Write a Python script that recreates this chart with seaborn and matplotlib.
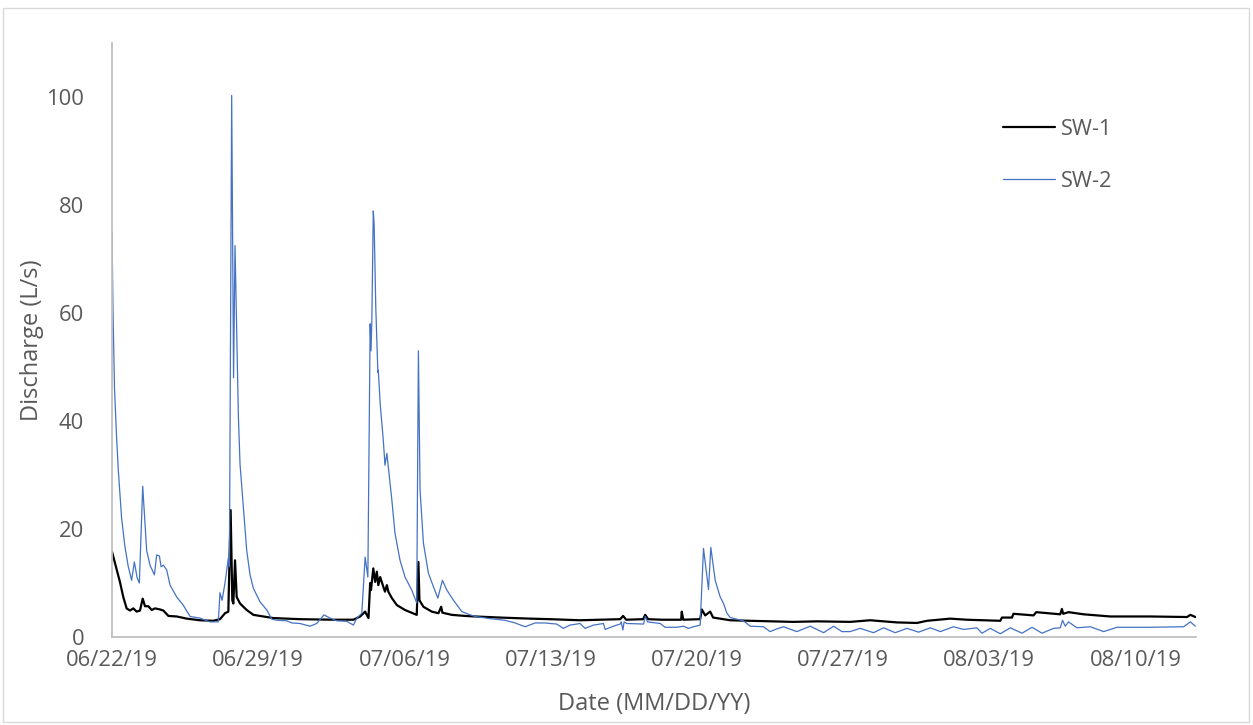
import matplotlib
matplotlib.use("Agg")
import matplotlib.pyplot as plt
import matplotlib.dates as mdates
from matplotlib.patches import Rectangle
import seaborn as sns
import pandas as pd

START = "2019-06-22"

# SW-1 discharge, day offsets from 06/22/19 and L/s
sw1_days = [0.00, 0.23, 0.38, 0.54, 0.70, 0.86, 1.02, 1.18, 1.34, 1.47, 1.58, 1.74, 1.90,
            2.06, 2.30, 2.46, 2.70, 3.10, 3.58, 4.21, 4.85, 5.17, 5.41, 5.57, 5.68, 5.76,
            5.81, 5.89, 5.97, 6.13, 6.45, 6.77, 7.25, 7.73, 9.00, 10.60, 11.56, 11.88, 12.12,
            12.28, 12.36, 12.40, 12.51, 12.60, 12.68, 12.75, 12.84, 12.99, 13.07, 13.16, 13.23,
            13.40, 13.64, 14.03, 14.59, 14.67, 14.72, 14.91, 15.31, 15.63, 15.76, 15.82, 16.27,
            16.91, 17.39, 18.58, 20.02, 20.98, 22.41, 24.33, 24.47, 24.62, 25.43, 25.53, 25.67,
            26.33, 27.25, 27.28, 27.35, 28.16, 28.24, 28.40, 28.64, 28.78, 29.60, 30.56, 32.61,
            33.77, 35.34, 36.30, 37.58, 38.54, 39.02, 40.13, 40.93, 41.73, 42.53, 42.61, 43.09,
            43.16, 44.12, 44.25, 45.40, 45.48, 45.54, 45.80, 46.52, 47.80, 49.71, 51.47, 51.63,
            51.87]
sw1_q = [15.8, 12.4, 10.2, 7.4, 5.3, 4.9, 5.3, 4.7, 4.9, 7.1, 5.7, 5.7, 5.0,
         5.3, 5.1, 4.9, 3.9, 3.8, 3.4, 3.1, 3.0, 3.3, 4.4, 4.7, 23.5, 6.8,
         6.2, 14.2, 7.4, 6.2, 5.0, 4.1, 3.8, 3.5, 3.3, 3.2, 3.2, 3.8, 4.7,
         3.5, 10.0, 8.7, 12.7, 10.2, 12.1, 9.6, 11.1, 9.3, 8.4, 9.6, 8.4,
         7.2, 5.9, 5.0, 4.1, 13.9, 6.8, 5.6, 4.7, 4.4, 5.6, 4.5, 4.1,
         3.9, 3.8, 3.6, 3.4, 3.3, 3.1, 3.3, 3.9, 3.2, 3.3, 4.1, 3.3,
         3.2, 3.2, 4.7, 3.2, 3.3, 5.1, 4.0, 4.7, 3.6, 3.1, 3.0, 2.8,
         2.9, 2.8, 3.1, 2.7, 2.6, 3.0, 3.4, 3.2, 3.1, 3.0, 3.6, 3.6,
         4.3, 4.0, 4.6, 4.2, 5.2, 4.3, 4.6, 4.2, 3.8, 3.8, 3.7, 4.1,
         3.7]

# SW-2 discharge
sw2_days = [0.00, 0.05, 0.12, 0.22, 0.30, 0.46, 0.62, 0.78, 0.94, 1.07, 1.20, 1.31, 1.47,
            1.66, 1.82, 2.03, 2.14, 2.27, 2.35, 2.46, 2.62, 2.78, 3.10, 3.41, 3.74, 4.21,
            4.69, 5.09, 5.17, 5.27, 5.41, 5.57, 5.62, 5.73, 5.82, 5.89, 5.97, 6.05, 6.13,
            6.29, 6.45, 6.61, 6.77, 7.09, 7.41, 7.65, 7.89, 8.37, 8.61, 9.00, 9.48, 9.80,
            10.15, 10.44, 10.76, 11.24, 11.56, 11.72, 11.96, 12.12, 12.25, 12.36, 12.40, 12.44,
            12.51, 12.55, 12.63, 12.73, 12.75, 12.84, 12.99, 13.07, 13.16, 13.23, 13.40, 13.55,
            13.79, 14.03, 14.35, 14.59, 14.67, 14.75, 14.91, 15.15, 15.39, 15.60, 15.66, 15.82,
            16.03, 16.35, 16.75, 17.15, 17.39, 18.10, 18.82, 19.30, 19.78, 20.26, 20.74, 20.98,
            21.29, 21.61, 21.93, 22.41, 22.65, 23.05, 23.53, 23.61, 24.01, 24.33, 24.38, 24.46,
            24.52, 24.65, 25.45, 25.53, 25.64, 26.25, 26.48, 27.04, 27.36, 27.60, 27.84, 28.16,
            28.32, 28.56, 28.67, 28.88, 29.12, 29.28, 29.44, 29.60, 29.92, 30.23, 30.56, 31.19,
            31.51, 31.83, 32.15, 32.79, 33.43, 34.07, 34.55, 34.95, 35.34, 35.82, 36.46, 36.94,
            37.50, 38.06, 38.62, 39.18, 39.66, 40.29, 40.77, 41.41, 41.65, 42.05, 42.53, 43.01,
            43.57, 44.05, 44.53, 45.08, 45.40, 45.51, 45.64, 45.80, 46.20, 46.84, 47.48, 48.12,
            49.71, 51.31, 51.63, 51.87]
sw2_q = [75.0, 60.0, 46.0, 37.0, 31.0, 22.0, 16.7, 13.0, 10.5, 13.9, 11.0, 10.0, 27.9,
         16.0, 13.3, 11.5, 15.2, 15.0, 13.0, 13.3, 12.4, 9.6, 7.4, 5.9, 3.8, 3.5,
         2.8, 2.8, 8.2, 6.8, 10.0, 14.6, 13.0, 100.3, 48.0, 72.5, 57.0, 41.0, 32.0,
         24.0, 16.0, 11.5, 9.0, 6.5, 5.0, 3.3, 3.1, 3.0, 2.6, 2.5, 2.0, 2.5,
         4.1, 3.5, 3.0, 2.9, 2.2, 3.5, 4.4, 14.8, 11.1, 58.0, 53.0, 58.3,
         78.9, 76.5, 61.0, 49.0, 49.4, 43.2, 36.4, 31.8, 34.0, 31.5, 25.3, 19.2,
         14.2, 11.1, 8.7, 6.3, 53.0, 27.2, 17.4, 11.8, 9.3, 7.2, 8.1, 10.5,
         8.7, 6.8, 4.7, 4.1, 3.8, 3.4, 3.1, 2.6, 1.9, 2.6, 2.6, 2.5,
         2.4, 1.6, 2.2, 2.5, 1.6, 2.2, 2.5, 1.4, 2.0, 2.4, 2.8, 1.3,
         2.8, 2.5, 2.4, 3.8, 2.8, 2.5, 1.8, 1.8, 2.0, 1.6, 1.9, 2.2,
         16.4, 8.8, 16.6, 10.5, 7.4, 6.2, 4.4, 3.6, 3.3, 3.0, 2.0, 1.9,
         1.0, 1.5, 1.9, 1.0, 2.0, 0.8, 2.0, 1.0, 1.0, 1.6, 0.8, 1.7,
         0.8, 1.6, 0.9, 1.7, 1.0, 1.9, 1.4, 1.7, 0.7, 1.6, 0.6, 1.7,
         0.7, 1.8, 0.7, 1.6, 1.7, 3.1, 2.0, 2.8, 1.7, 1.9, 1.0, 1.8,
         1.8, 1.9, 2.8, 2.0]

xtick_dates = ["2019-06-22", "2019-06-29", "2019-07-06", "2019-07-13",
               "2019-07-20", "2019-07-27", "2019-08-03", "2019-08-10"]
yticks = [0, 20, 40, 60, 80, 100]

GREY_TEXT = "#595959"
GREY_LINE = "#BFBFBF"
TICK_FS = 15.8
LABEL_FS = 17

sns.set_theme(style="white")
plt.rcParams["font.family"] = ["Open Sans", "DejaVu Sans"]

start = pd.Timestamp(START)
df1 = pd.DataFrame({"Date": start + pd.to_timedelta(sw1_days, unit="D"), "Q": sw1_q})
df2 = pd.DataFrame({"Date": start + pd.to_timedelta(sw2_days, unit="D"), "Q": sw2_q})

fig = plt.figure(figsize=(12.53, 7.25), dpi=100)
ax = fig.add_axes([112 / 1253, 1 - 637 / 725, (1196 - 112) / 1253, (637 - 43) / 725])

sns.lineplot(data=df1, x="Date", y="Q", ax=ax, color="black", linewidth=1.6,
             label="SW-1", estimator=None, sort=False)
sns.lineplot(data=df2, x="Date", y="Q", ax=ax, color="#4472C4", linewidth=0.9,
             label="SW-2", estimator=None, sort=False)

ax.set_xlim(start, start + pd.Timedelta(days=51.9))
ax.set_ylim(0, 110)
ax.set_yticks(yticks)
ax.set_xticks(pd.to_datetime(xtick_dates))
ax.xaxis.set_major_formatter(mdates.DateFormatter("%m/%d/%y"))

for side in ["top", "right"]:
    ax.spines[side].set_visible(False)
for side in ["left", "bottom"]:
    ax.spines[side].set_color(GREY_LINE)
    ax.spines[side].set_linewidth(1.3)

ax.tick_params(axis="y", length=0, pad=20, labelcolor=GREY_TEXT, labelsize=TICK_FS)
ax.tick_params(axis="x", length=8, width=1.3, color=GREY_LINE, direction="out",
               pad=1, labelcolor=GREY_TEXT, labelsize=TICK_FS)
ax.grid(False)

ax.set_xlabel("Date (MM/DD/YY)", color=GREY_TEXT, fontsize=LABEL_FS, va="top")
ax.set_ylabel("Discharge (L/s)", color=GREY_TEXT, fontsize=LABEL_FS)
ax.xaxis.set_label_coords(0.5, -0.093)
ax.yaxis.set_label_coords(-0.063, 0.5)

leg = ax.legend(loc="upper left", bbox_to_anchor=(0.804, 0.905), frameon=False,
                handlelength=2.4, handletextpad=0.25, labelspacing=1.4, fontsize=15.7)
for t in leg.get_texts():
    t.set_color(GREY_TEXT)

fig.add_artist(Rectangle((3 / 1253, 3 / 725), 1246 / 1253, 714 / 725,
                         transform=fig.transFigure, fill=False,
                         edgecolor="#D9D9D9", linewidth=1))

fig.savefig("out.png", dpi=100)
